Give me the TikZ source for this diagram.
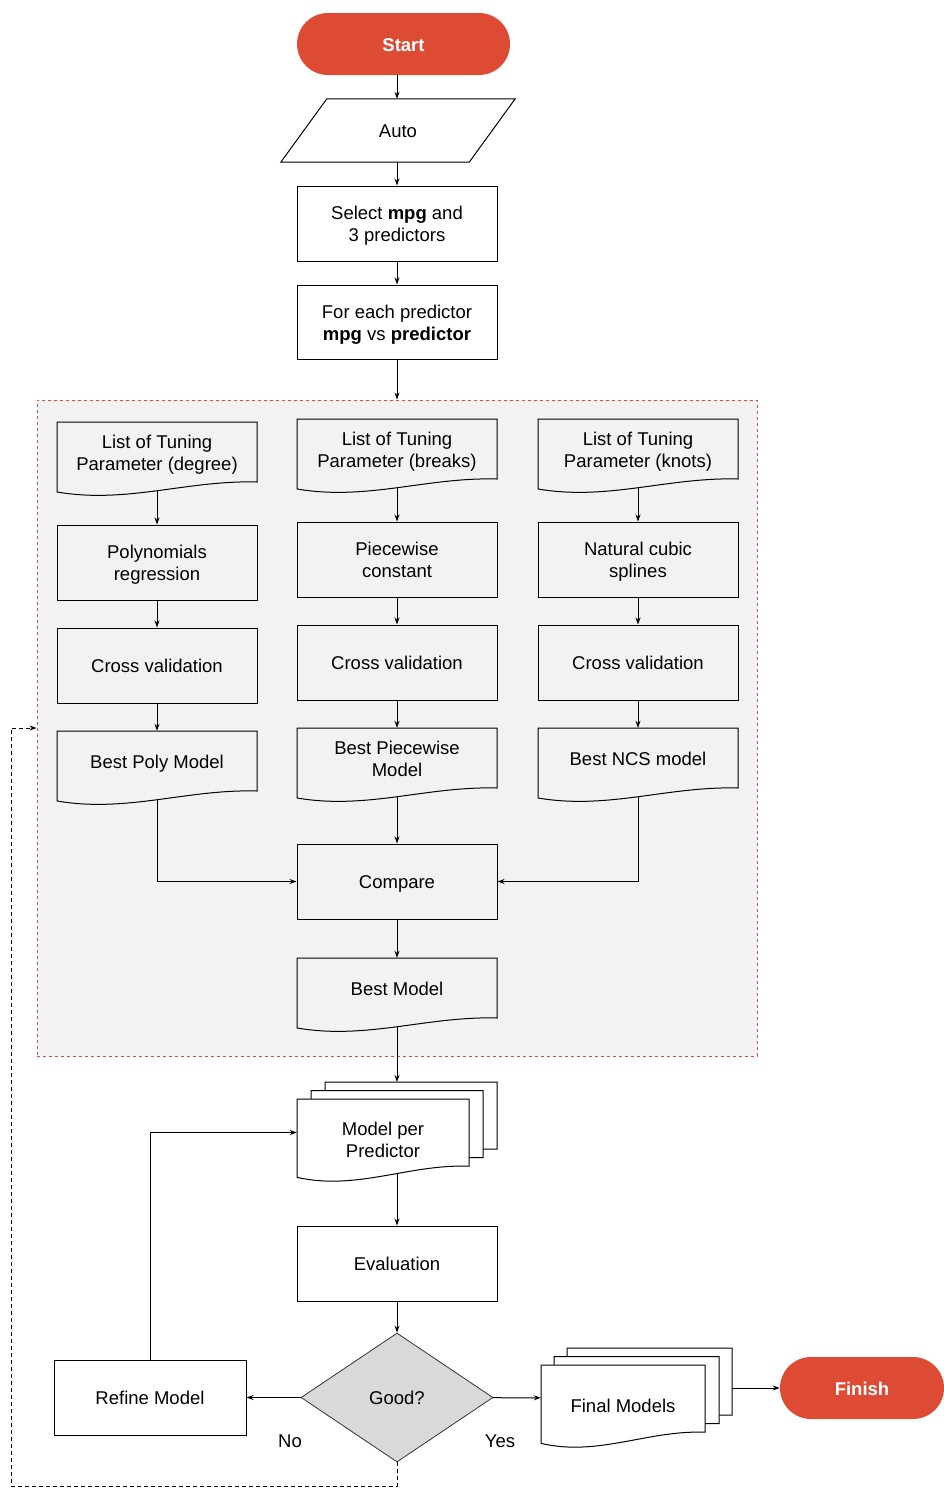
\documentclass[tikz,border=0pt]{standalone}
\usepackage{fontspec}
\setmainfont{Liberation Sans}
\usetikzlibrary{arrows.meta,shapes.geometric,calc}
\definecolor{tred}{RGB}{221,75,52}
\definecolor{grpfill}{RGB}{242,242,242}
\definecolor{grpline}{RGB}{226,74,58}
\definecolor{dfill}{RGB}{217,217,217}
\newcommand{\lnstrut}{\rule[-4pt]{0pt}{22.2pt}}
\tikzset{
 txt/.style={font=\fontsize{18.5}{22.2}\selectfont, align=center, inner sep=0pt,
   execute at begin node={\lnstrut}, execute at end node={\lnstrut}},
 procbox/.style={txt, draw, line width=1pt, minimum width=200pt, minimum height=75pt},
 term/.style={txt, font=\fontsize{18.5}{22.2}\selectfont\bfseries, text=white, fill=tred, rounded corners=31pt, minimum height=62pt},
 docbody/.style={txt, minimum width=200pt, minimum height=60pt},
 outl/.style={draw, line width=1pt},
 arr/.style={draw, line width=1pt, -{Stealth[length=7pt,width=5pt]}},
 fb/.style={arr, dash pattern=on 4pt off 3pt},
}
\newcommand{\docpath}[5]{\filldraw[outl, fill=#5] ({#1},{#2}) -- ({#1+#3},{#2}) -- ({#1+#3},{#2+0.8*#4}) .. controls ({#1+0.65*#3},{#2+0.773*#4}) and ({#1+0.35*#3},{#2+1.093*#4}) .. ({#1},{#2+0.933*#4}) -- cycle;}
\newcommand{\docnode}[4]{%
 \docpath{#2-100}{#3}{200}{75}{grpfill}
 \node[docbody] (#1) at (#2,{#3+30}) {#4};
 \coordinate (#1-b) at (#2,{#3+69});}
\begin{document}
\begin{tikzpicture}[x=1pt,y=-1pt]
\useasboundingbox (0,0) rectangle (944,1510);
\node[draw=grpline, fill=grpfill, line width=0.8pt, dash pattern=on 3pt off 3pt, minimum width=720pt, minimum height=656pt, inner sep=0pt] (grp) at (397,728) {};

\node[term, minimum width=213pt] (start) at (403.5,44) {Start};
\node[txt, minimum width=188pt, minimum height=63pt] (auto) at (398,130.5) {Auto};
\draw[outl] ([xshift=23pt]auto.north west) -- ([xshift=23pt]auto.north east) -- ([xshift=-23pt]auto.south east) -- ([xshift=-23pt]auto.south west) -- cycle;
\node[procbox] (sel) at (397,223.5) {\lnstrut Select \textbf{mpg} and\\3 predictors\lnstrut};
\node[procbox, minimum height=74pt] (each) at (397,322) {\lnstrut For each predictor\\\textbf{mpg} vs \textbf{predictor}\lnstrut};

\docnode{tl1}{157}{422}{\lnstrut List of Tuning\\Parameter (degree)\lnstrut}
\docnode{tl2}{397}{419}{\lnstrut List of Tuning\\Parameter (breaks)\lnstrut}
\docnode{tl3}{638}{419}{\lnstrut List of Tuning\\Parameter (knots)\lnstrut}
\node[procbox] (pr1) at (157,562.5) {\lnstrut Polynomials\\regression\lnstrut};
\node[procbox] (pr2) at (397,559.5) {\lnstrut Piecewise\\constant\lnstrut};
\node[procbox] (pr3) at (638,559.5) {\lnstrut Natural cubic\\splines\lnstrut};
\node[procbox] (cv1) at (157,665.5) {Cross validation};
\node[procbox] (cv2) at (397,662.5) {Cross validation};
\node[procbox] (cv3) at (638,662.5) {Cross validation};
\docnode{bp1}{157}{731}{Best Poly Model}
\docnode{bp2}{397}{728}{\lnstrut Best Piecewise\\Model\lnstrut}
\docnode{bp3}{638}{728}{Best NCS model}
\node[procbox] (cmp) at (397,881.5) {Compare};
\docnode{bm}{397}{958}{Best Model}

\docpath{325}{1082}{172}{84}{white}
\docpath{311}{1090.5}{172}{84}{white}
\docpath{297}{1099}{172}{84}{white}
\node[txt, minimum width=172pt, minimum height=67pt] (mpp) at (383,1132.5) {};
\node[txt] (mpptxt) at (383,1139) {\lnstrut Model per\\Predictor\lnstrut};
\coordinate (mpptop) at (397,1082);
\coordinate (mppb) at (397,1174);

\node[procbox] (eval) at (397,1263.5) {Evaluation};
\node[txt, diamond, draw=black!80, line width=0.8pt, fill=dfill, minimum width=192pt, minimum height=129pt] (good) at (397,1397.5) {Good?};
\node[procbox, minimum width=192pt] (ref) at (150,1397.5) {Refine Model};

\docpath{567}{1348}{165}{84}{white}
\docpath{554}{1356.5}{165}{84}{white}
\docpath{541}{1365}{164}{84}{white}
\node[txt, minimum width=164pt, minimum height=66pt] (fin) at (623,1398) {};
\node[txt] (fintxt) at (623,1405) {Final Models};
\coordinate (finout) at (732,1388);
\node[term, minimum width=164pt] (finish) at (862,1388) {Finish};

\node[txt] (no) at (290,1440) {No};
\node[txt] (yes) at (500,1440) {Yes};
\coordinate (fbA) at (11,1486);

\draw[arr] (start.south -| sel.north) -- (sel.north |- auto.north);
\draw[arr] (sel.north |- auto.south) -- (sel);
\draw[arr] (sel) -- (each);
\draw[arr] (each) -- (grp);
\draw[arr] (tl1-b) -- (pr1);
\draw[arr] (tl2-b) -- (pr2);
\draw[arr] (tl3-b) -- (pr3);
\draw[arr] (pr1) -- (cv1);
\draw[arr] (pr2) -- (cv2);
\draw[arr] (pr3) -- (cv3);
\draw[arr] (cv1) -- (bp1);
\draw[arr] (cv2) -- (bp2);
\draw[arr] (cv3) -- (bp3);
\draw[arr] (bp2-b) -- (cmp);
\draw[arr] (bp1-b) |- (cmp.west);
\draw[arr] (bp3-b) |- (cmp.east);
\draw[arr] (cmp) -- (bm);
\draw[arr] (bm-b) -- (mpptop);
\draw[arr] (mppb) -- (eval);
\draw[arr] (eval) -- (good);
\draw[arr] (good) -- (ref);
\draw[arr] (ref) |- (mpp.west);
\draw[arr] (good) -- (fin);
\draw[arr] (finout) -- (finish);
\draw[fb] (good.south) |- (fbA) |- (grp.west);
\end{tikzpicture}
\end{document}
